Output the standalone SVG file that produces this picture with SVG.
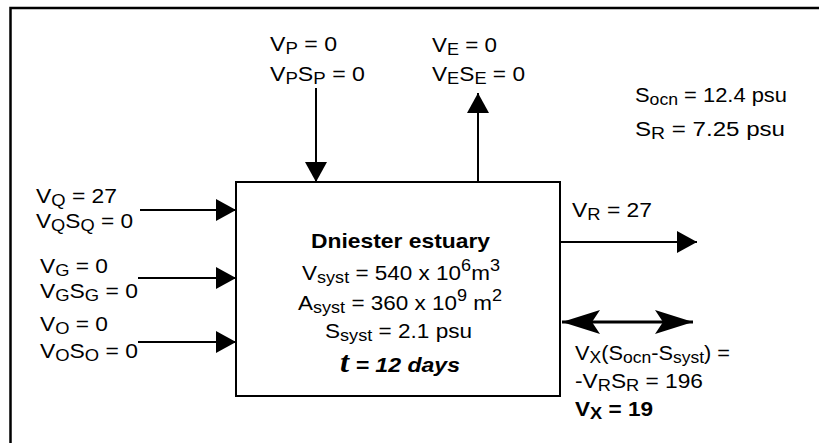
<svg xmlns="http://www.w3.org/2000/svg" width="819" height="443" viewBox="0 0 819 443">
<style>
text{font-family:"Liberation Sans",Arial,sans-serif;font-size:20.5px;fill:#000}
.b{font-weight:bold}
.sub{font-size:16.5px}
.ln{stroke:#000;stroke-width:2;fill:none}
</style>
<defs>
<marker id="tri" viewBox="0 0 20 22" refX="20" refY="11" markerWidth="20" markerHeight="22" markerUnits="userSpaceOnUse" orient="auto">
<path d="M0,0 L20,11 L0,22 Z" fill="#000"/>
</marker>
<marker id="barb" viewBox="0 0 40 24" refX="40" refY="12" markerWidth="40" markerHeight="24" markerUnits="userSpaceOnUse" orient="auto-start-reverse">
<path d="M40,12 L2,0 L10,12 L2,24 Z" fill="#000"/>
</marker>
</defs>
<rect width="819" height="443" fill="#fff"/>
<rect id="frame" x="10.5" y="8" width="840" height="470" fill="none" stroke="#000" stroke-width="2.5"/>

<g id="connectors">
<line class="ln" x1="316" y1="88" x2="316" y2="182" marker-end="url(#tri)"/>
<line class="ln" x1="478" y1="182" x2="478" y2="93" marker-end="url(#tri)"/>
<line class="ln" x1="140" y1="210" x2="236" y2="210" marker-end="url(#tri)"/>
<line class="ln" x1="138" y1="278" x2="236" y2="278" marker-end="url(#tri)"/>
<line class="ln" x1="138" y1="342" x2="236" y2="342" marker-end="url(#tri)"/>
<line class="ln" x1="560" y1="242" x2="697" y2="242" marker-end="url(#tri)"/>
<line class="ln" style="stroke-width:3" x1="562" y1="322" x2="693" y2="322" marker-start="url(#barb)" marker-end="url(#barb)"/>
</g>

<g id="estuary">
<rect x="236" y="182" width="324" height="214" fill="#fff" stroke="#000" stroke-width="2"/>
<text class="b" x="311" y="248" textLength="179" lengthAdjust="spacingAndGlyphs">Dniester estuary</text>
<text x="302" y="280" textLength="198" lengthAdjust="spacingAndGlyphs">V<tspan class="sub" dy="3">syst</tspan><tspan dy="-3"> = 540 x 10</tspan><tspan class="sub" dy="-9">6</tspan><tspan dy="9">m</tspan><tspan class="sub" dy="-9">3</tspan></text>
<text x="298" y="310" textLength="204" lengthAdjust="spacingAndGlyphs">A<tspan class="sub" dy="3">syst</tspan><tspan dy="-3"> = 360 x 10</tspan><tspan class="sub" dy="-9">9</tspan><tspan dy="9">  m</tspan><tspan class="sub" dy="-9">2</tspan></text>
<text x="325" y="338" textLength="147" lengthAdjust="spacingAndGlyphs">S<tspan class="sub" dy="3">syst</tspan><tspan dy="-3"> = 2.1 psu</tspan></text>
<text class="b" x="340" y="372" textLength="120" lengthAdjust="spacingAndGlyphs" font-style="italic"><tspan style="font-family:'Liberation Serif',serif;font-size:29px">t</tspan> = 12 days</text>
</g>

<g id="precip">
<text x="270" y="51" textLength="67" lengthAdjust="spacingAndGlyphs">V<tspan class="sub" dy="3">P</tspan><tspan dy="-3"> = 0</tspan></text>
<text x="270" y="81" textLength="95" lengthAdjust="spacingAndGlyphs">V<tspan class="sub" dy="3">P</tspan><tspan dy="-3">S</tspan><tspan class="sub" dy="3">P</tspan><tspan dy="-3"> = 0</tspan></text>
</g>

<g id="evap">
<text x="432" y="52" textLength="65" lengthAdjust="spacingAndGlyphs">V<tspan class="sub" dy="3">E</tspan><tspan dy="-3"> = 0</tspan></text>
<text x="432" y="81" textLength="93" lengthAdjust="spacingAndGlyphs">V<tspan class="sub" dy="3">E</tspan><tspan dy="-3">S</tspan><tspan class="sub" dy="3">E</tspan><tspan dy="-3"> = 0</tspan></text>
</g>

<g id="salinity">
<text x="635" y="102" textLength="152" lengthAdjust="spacingAndGlyphs">S<tspan class="sub" dy="3">ocn</tspan><tspan dy="-3"> = 12.4 psu</tspan></text>
<text x="635" y="136" textLength="150" lengthAdjust="spacingAndGlyphs">S<tspan class="sub" dy="3">R</tspan><tspan dy="-3"> =  7.25 psu</tspan></text>
</g>

<g id="runoff">
<text x="36" y="203" textLength="81" lengthAdjust="spacingAndGlyphs">V<tspan class="sub" dy="3">Q</tspan><tspan dy="-3"> = 27</tspan></text>
<text x="36" y="228" textLength="97" lengthAdjust="spacingAndGlyphs">V<tspan class="sub" dy="3">Q</tspan><tspan dy="-3">S</tspan><tspan class="sub" dy="3">Q</tspan><tspan dy="-3"> = 0</tspan></text>
</g>

<g id="ground">
<text x="40" y="273" textLength="68" lengthAdjust="spacingAndGlyphs">V<tspan class="sub" dy="3">G</tspan><tspan dy="-3"> = 0</tspan></text>
<text x="40" y="298" textLength="98" lengthAdjust="spacingAndGlyphs">V<tspan class="sub" dy="3">G</tspan><tspan dy="-3">S</tspan><tspan class="sub" dy="3">G</tspan><tspan dy="-3"> = 0</tspan></text>
</g>

<g id="other">
<text x="40" y="331" textLength="68" lengthAdjust="spacingAndGlyphs">V<tspan class="sub" dy="3">O</tspan><tspan dy="-3"> = 0</tspan></text>
<text x="40" y="358" textLength="98" lengthAdjust="spacingAndGlyphs">V<tspan class="sub" dy="3">O</tspan><tspan dy="-3">S</tspan><tspan class="sub" dy="3">O</tspan><tspan dy="-3"> = 0</tspan></text>
</g>

<g id="residual">
<text x="572" y="217" textLength="80" lengthAdjust="spacingAndGlyphs">V<tspan class="sub" dy="3">R</tspan><tspan dy="-3"> = 27</tspan></text>
</g>

<g id="exchange">
<text x="575" y="360" textLength="155" lengthAdjust="spacingAndGlyphs">V<tspan class="sub" dy="3">X</tspan><tspan dy="-3">(S</tspan><tspan class="sub" dy="3">ocn</tspan><tspan dy="-3">-S</tspan><tspan class="sub" dy="3">syst</tspan><tspan dy="-3">) =</tspan></text>
<text x="575" y="388" textLength="128" lengthAdjust="spacingAndGlyphs">-V<tspan class="sub" dy="3">R</tspan><tspan dy="-3">S</tspan><tspan class="sub" dy="3">R</tspan><tspan dy="-3">  = 196</tspan></text>
<text class="b" x="575" y="416" textLength="78" lengthAdjust="spacingAndGlyphs">V<tspan class="sub" dy="3">X</tspan><tspan dy="-3"> = 19</tspan></text>
</g>
</svg>
